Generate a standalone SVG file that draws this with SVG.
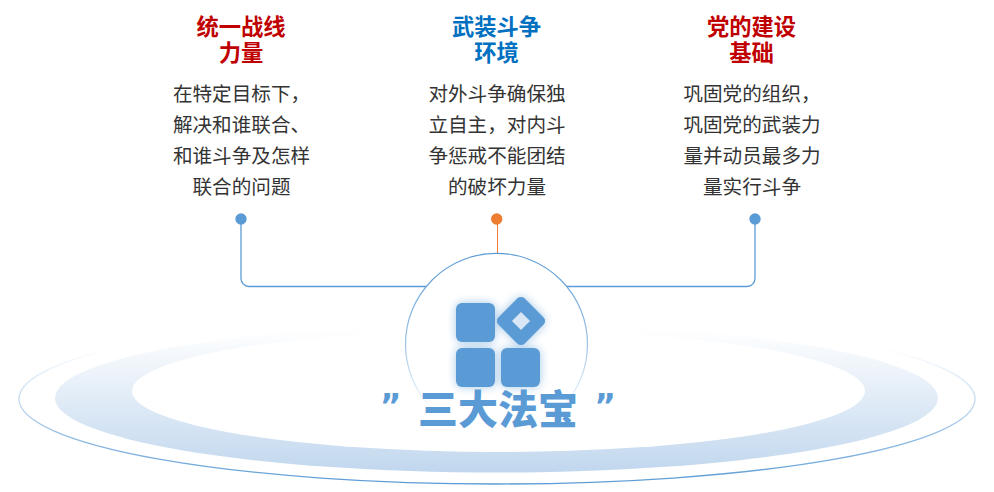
<svg xmlns="http://www.w3.org/2000/svg" width="994" height="492" viewBox="0 0 994 492">
<style>
text{font-family:"Noto Sans CJK SC","Noto Sans",sans-serif;text-anchor:middle}
.t{font-size:22.300px;font-weight:700}
.red{fill:#c00000}.blue{fill:#0070c0}
.b{font-size:19.600px;fill:#333}
.line{fill:none;stroke:#5b9bd5;stroke-width:1.3}
.ic{fill:#5b9bd5}
.h{font-size:40px;font-weight:900;fill:#5b9bd5}
.q{font-family:"DejaVu Sans",sans-serif;font-size:33px;font-weight:700;fill:#5b9bd5}
</style>
<defs>
<linearGradient id="ring" x1="0" y1="0" x2="0" y2="1"><stop offset="0.2" stop-color="#5b9bd5" stop-opacity="0"/><stop offset="0.45" stop-color="#5b9bd5" stop-opacity="0.3"/><stop offset="1" stop-color="#5b9bd5"/></linearGradient>
<linearGradient id="band" x1="0" y1="0" x2="0" y2="1"><stop offset="0.04" stop-color="#c1d7ee" stop-opacity="0"/><stop offset="1" stop-color="#c1d7ee"/></linearGradient>
<linearGradient id="circ" x1="0" y1="0" x2="0" y2="1"><stop offset="0" stop-color="#5b9bd5"/><stop offset="0.5" stop-color="#5b9bd5" stop-opacity="0.6"/><stop offset="0.8" stop-color="#5b9bd5" stop-opacity="0.12"/><stop offset="0.85" stop-color="#5b9bd5" stop-opacity="0"/></linearGradient>
<filter id="glow" x="-30%" y="-30%" width="160%" height="160%"><feGaussianBlur stdDeviation="5"/></filter>
</defs>
<rect width="994" height="492" fill="#fff"/>
<g id="base">
<ellipse cx="497" cy="399" rx="478" ry="85" fill="none" stroke="url(#ring)" stroke-width="1.3"/>
<ellipse cx="496.500" cy="398" rx="441.500" ry="74.500" fill="url(#band)"/>
<ellipse cx="498.500" cy="391" rx="366.500" ry="61" fill="#fff"/>
</g>
<g id="connectors">
<path class="line" d="M241 219V278.500a8 8 0 0 0 8 8H428"/>
<path class="line" d="M755 219V278.500a8 8 0 0 1-8 8H566"/>
<path d="M497.500 219V254" fill="none" stroke="#ed7d31" stroke-width="1"/>
</g>
<g id="hub">
<circle cx="496.500" cy="344.300" r="91" fill="#fff" fill-opacity="0.9" stroke="url(#circ)" stroke-width="1.2"/>
<g fill="#5b9bd5" opacity="0.55" filter="url(#glow)">
<rect x="456" y="303" width="39" height="39" rx="6"/><rect x="456" y="348" width="39" height="39" rx="6"/><rect x="501" y="348" width="39" height="39" rx="6"/><rect x="-18.500" y="-18.500" width="37" height="37" rx="5" transform="translate(521 321) rotate(45)"/>
</g>
<rect class="ic" x="456" y="303" width="39" height="39" rx="6"/>
<rect class="ic" x="456" y="348" width="39" height="39" rx="6"/>
<rect class="ic" x="501" y="348" width="39" height="39" rx="6"/>
<rect class="ic" x="-18.500" y="-18.500" width="37" height="37" rx="5" transform="translate(521 321) rotate(45)"/>
<rect x="-6.400" y="-6.400" width="12.800" height="12.800" fill="#d8e6f5" transform="translate(521 321) rotate(45)"/>
</g>
<g id="label">
<text class="h" x="498" y="424">三大法宝</text>
<text class="q" x="390.500" y="418">”</text>
<text class="q" x="605" y="418">”</text>
</g>
<g id="node-left">
<circle cx="241" cy="219" r="5.700" fill="#5b9bd5"/>
<text class="t red" x="241" y="34.500">统一战线</text>
<text class="t red" x="241" y="61">力量</text>
<text class="b" x="241.500" y="101">在特定目标下，</text>
<text class="b" x="241.500" y="132">解决和谁联合、</text>
<text class="b" x="241.500" y="163">和谁斗争及怎样</text>
<text class="b" x="241.500" y="194">联合的问题</text>
</g>
<g id="node-center">
<circle cx="496.700" cy="219" r="5.700" fill="#ed7d31"/>
<text class="t blue" x="496.500" y="34.500">武装斗争</text>
<text class="t blue" x="496.500" y="61">环境</text>
<text class="b" x="497" y="101">对外斗争确保独</text>
<text class="b" x="497" y="132">立自主，对内斗</text>
<text class="b" x="497" y="163">争惩戒不能团结</text>
<text class="b" x="497" y="194">的破坏力量</text>
</g>
<g id="node-right">
<circle cx="755" cy="219" r="5.700" fill="#5b9bd5"/>
<text class="t red" x="751.500" y="34.500">党的建设</text>
<text class="t red" x="751.500" y="61">基础</text>
<text class="b" x="752" y="101">巩固党的组织，</text>
<text class="b" x="752" y="132">巩固党的武装力</text>
<text class="b" x="752" y="163">量并动员最多力</text>
<text class="b" x="752" y="194">量实行斗争</text>
</g>
</svg>
